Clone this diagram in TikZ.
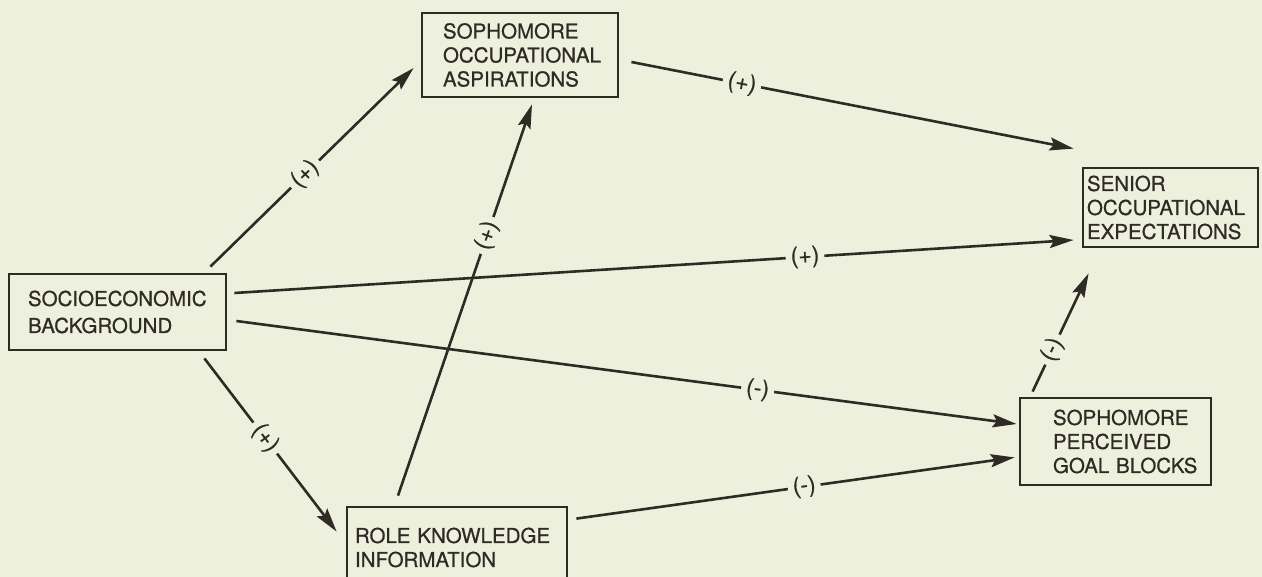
\documentclass[tikz,border=0pt]{standalone}
\usepackage{fontspec}
\setmainfont{TeX Gyre Heros}
\newfontfamily\hand[FakeBold=0.6]{TeX Gyre Heros}
\usetikzlibrary{arrows.meta,calc}
\definecolor{bg}{HTML}{EEF0DE}
\definecolor{ink}{HTML}{2E2A24}
\tikzset{
  box/.style={draw=ink, line width=2.8pt, text=ink, rectangle, align=left,
    inner ysep=0pt, font=\hand\fontsize{20.5}{24}\selectfont},
  conn/.style={draw=ink, line width=2.6pt, -{Stealth[length=24pt,width=13pt,inset=4pt]}},
  lab/.style={fill=bg, text=ink, inner xsep=5pt, inner ysep=1pt, sloped, font=\hand\fontsize{23}{23}\selectfont}
}
\begin{document}
\begin{tikzpicture}[x=1pt,y=-1pt]
\fill[bg] (0,0) rectangle (1262,577);
\useasboundingbox (0,0) rectangle (1262,577);
\clip (0,0) rectangle (1262,577);

\node[box, minimum width=217, minimum height=76, inner xsep=19, text width=179,
  font=\hand\fontsize{20.5}{27}\selectfont] (ses) at (117.5,312) {SOCIOECONOMIC\\BACKGROUND};
\node[box, minimum width=196, minimum height=84, inner xsep=21, text width=154] (soa) at (520,55)
  {SOPHOMORE\\OCCUPATIONAL\\ASPIRATIONS};
\node[box, minimum width=175, minimum height=79, inner xsep=4, text width=167] (sen) at (1170.5,207.5)
  {SENIOR\\OCCUPATIONAL\\EXPECTATIONS};
\node[box, minimum width=191, minimum height=87, inner xsep=33, text width=125] (pgb) at (1115.5,441.5)
  {SOPHOMORE\\PERCEIVED\\GOAL~BLOCKS};
\node[box, minimum width=220, minimum height=81, inner xsep=8, text width=204] (rki) at (457,547.5)
  {ROLE~KNOWLEDGE\\INFORMATION};

\draw[conn] ($(ses.north east)+(-17,-6)$) -- node[lab,pos=0.466]{(+)} ($(soa.west)+(-7,13)$);
\draw[conn] ($(ses.south east)+(-23,7)$) -- node[lab,pos=0.46]{(+)} ($(rki.north west)+(-9,26)$);
\draw[conn] ($(ses.east)+(7,-19)$) -- node[lab,pos=0.68]{(+)} ($(sen.west)+(-8,32.5)$);
\draw[conn] ($(ses.east)+(9,9)$) -- node[lab,pos=0.668]{(-)} ($(pgb.west)+(-2,-17.5)$);
\draw[conn] ($(rki.north)+(-59,-10)$) -- node[lab,pos=0.665]{(+)} ($(soa.south)+(12,6)$);
\draw[conn] ($(soa.east)+(12,7)$) -- node[lab,pos=0.25]{(+)} ($(sen.north west)+(-8,-18)$);
\draw[conn] ($(pgb.north west)+(14,-5)$) -- node[lab,pos=0.355]{(-)} ($(sen.south west)+(7,25)$);
\draw[conn] ($(rki.north east)+(8,13)$) -- node[lab,pos=0.52]{(-)} ($(pgb.south west)+(-4,-29)$);
\end{tikzpicture}
\end{document}
